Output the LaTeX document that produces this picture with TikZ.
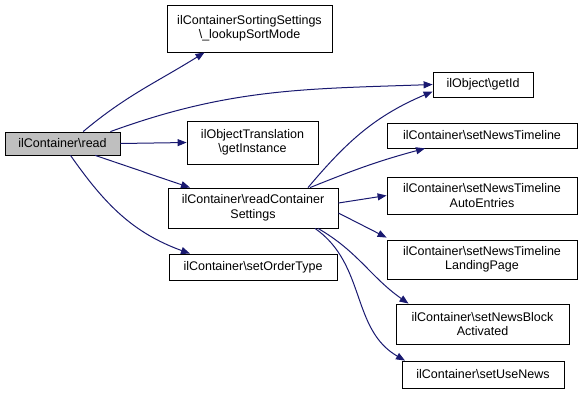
\documentclass[tikz,border=0pt]{standalone}
\usepackage{fontspec}
\setmainfont{Liberation Sans}
\usepackage{tikz}
\usetikzlibrary{arrows.meta,positioning}
\definecolor{callblue}{HTML}{191970}

\begin{document}
\begin{tikzpicture} [
      x = 1pt, y = 1pt,
      func/.style = { draw, thick, inner sep = 0, align = center,
                      font = \fontsize{12.5}{14.5}\selectfont },
      call/.style = { callblue, line width = 1pt,
                      -{Triangle[length = 9pt, width = 7pt]} }
      ]
      \useasboundingbox (0,0) rectangle (583,-402);

      \node [func, fill = black!25, minimum width = 115, minimum height = 23] (read) at (62.5,-143.5) {ilContainer\textbackslash read};
      \node [func, minimum width = 165, minimum height = 47] (sort) at (249.5,-28.5) {ilContainerSortingSettings\\\textbackslash \_lookupSortMode};
      \node [func, minimum width = 131, minimum height = 43] (trans) at (252.5,-142.5) {ilObjectTranslation\\\textbackslash getInstance};
      \node [func, minimum width = 170, minimum height = 40] (rcs) at (253,-208) {ilContainer\textbackslash readContainer\\Settings};
      \node [func, minimum width = 168, minimum height = 26] (order) at (253,-267) {ilContainer\textbackslash setOrderType};

      \node [func, minimum width = 100, minimum height = 25] (getid) at (483,-84.5) {ilObject\textbackslash getId};
      \node [func, minimum width = 190, minimum height = 25] (tl) at (482,-135.5) {ilContainer\textbackslash setNewsTimeline};
      \node [func, minimum width = 190, minimum height = 37] (auto) at (482,-195.5) {ilContainer\textbackslash setNewsTimeline\\AutoEntries};
      \node [func, minimum width = 190, minimum height = 39] (land) at (482,-259.5) {ilContainer\textbackslash setNewsTimeline\\LandingPage};
      \node [func, minimum width = 173, minimum height = 40] (block) at (482.5,-324) {ilContainer\textbackslash setNewsBlock\\Activated};
      \node [func, minimum width = 162, minimum height = 27] (use) at (483,-374.5) {ilContainer\textbackslash setUseNews};

      % calls from read
      \draw [call] (read.30) to [out = 40, in = 212] ([xshift = -45pt]sort.south);
      \draw [call] ([xshift = -10pt]read.north east) to [out = 20, in = 182] (getid.west);
      \draw [call] (read.east) -- (trans.west);
      \draw [call] (read.-20) -- ([xshift = -63pt]rcs.north);
      \draw [call] ([xshift = 8pt]read.south) to [out = -55, in = 160] ([xshift = -63pt]order.north);

      % calls from readContainerSettings
      \draw [call] ([xshift = 55pt]rcs.north) to [out = 50, in = 203] ([yshift = -7pt]getid.west);
      \draw [call] ([xshift = 57pt]rcs.north) to [out = 22, in = 195] ([xshift = -57pt]tl.south);
      \draw [call] ([yshift = 5pt]rcs.east) -- (auto.west);
      \draw [call] ([yshift = -5pt]rcs.east) -- ([yshift = 2pt]land.north west);
      \draw [call] ([xshift = 65pt]rcs.south) to [out = -30, in = 145] ([xshift = -74pt]block.north);
      \draw [call] ([xshift = 62pt]rcs.south) to [out = -35, in = 150] ([xshift = -78pt]use.north);
\end{tikzpicture}
\end{document}
